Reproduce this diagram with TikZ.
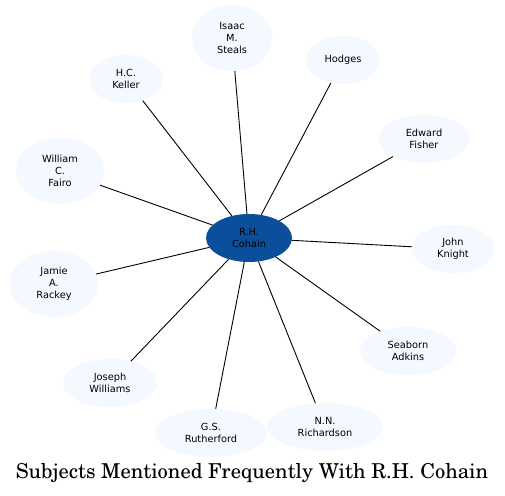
\documentclass[tikz,border=0pt]{standalone}
\usepackage[T1]{fontenc}
\usepackage{fontspec}
\newfontfamily\nodefont{DejaVu Sans}
\usetikzlibrary{shapes.geometric}
\definecolor{hub}{HTML}{0B4F9C}
\definecolor{leaf}{HTML}{F4F8FF}
\newcommand\titlefont{\fontencoding{T1}\fontfamily{pnc}\fontsize{20.5}{24}\selectfont}
\tikzset{
  leafnode/.style={ellipse, fill=leaf, draw=none, inner sep=0pt, align=center, font=\nodefont\fontsize{9.8}{11.8}\selectfont},
  hubnode/.style={ellipse, fill=hub, draw=none, inner sep=0pt, align=center, font=\nodefont\fontsize{9.8}{11.8}\selectfont, text=black},
  link/.style={draw=black, line width=0.9pt}
}
\begin{document}
\begin{tikzpicture}[x=1pt,y=-1pt]
\useasboundingbox[fill=white] (0,0) rectangle (505,495);
\node[hubnode, minimum width=86pt, minimum height=48pt] (c) at (249,238) {R.H.\\Cohain};
\node[leafnode, minimum width=80pt, minimum height=66pt] (isaac) at (232,38) {Isaac\\M.\\Steals};
\node[leafnode, minimum width=74pt, minimum height=48pt] (hodges) at (343,60) {Hodges};
\node[leafnode, minimum width=74pt, minimum height=48pt] (keller) at (126,79) {H.C.\\Keller};
\node[leafnode, minimum width=90pt, minimum height=48pt] (fisher) at (424,139) {Edward\\Fisher};
\node[leafnode, minimum width=88pt, minimum height=66pt] (fairo) at (60,171) {William\\C.\\Fairo};
\node[leafnode, minimum width=82pt, minimum height=48pt] (knight) at (453,249) {John\\Knight};
\node[leafnode, minimum width=88pt, minimum height=66pt] (rackey) at (54,284) {Jamie\\A.\\Rackey};
\node[leafnode, minimum width=96pt, minimum height=48pt] (adkins) at (408,351) {Seaborn\\Adkins};
\node[leafnode, minimum width=94pt, minimum height=48pt] (williams) at (110,383) {Joseph\\Williams};
\node[leafnode, minimum width=112pt, minimum height=48pt] (ruth) at (211,433) {G.S.\\Rutherford};
\node[leafnode, minimum width=116pt, minimum height=48pt] (rich) at (325,427) {N.N.\\Richardson};
\foreach \n in {isaac,hodges,keller,fisher,fairo,knight,rackey,adkins,williams,ruth,rich}
  \draw[link] (c) -- (\n);
\node[font=\titlefont, inner sep=0pt, anchor=base] (title) at (252,478) {Subjects Mentioned Frequently With R.H. Cohain};
\end{tikzpicture}
\end{document}
